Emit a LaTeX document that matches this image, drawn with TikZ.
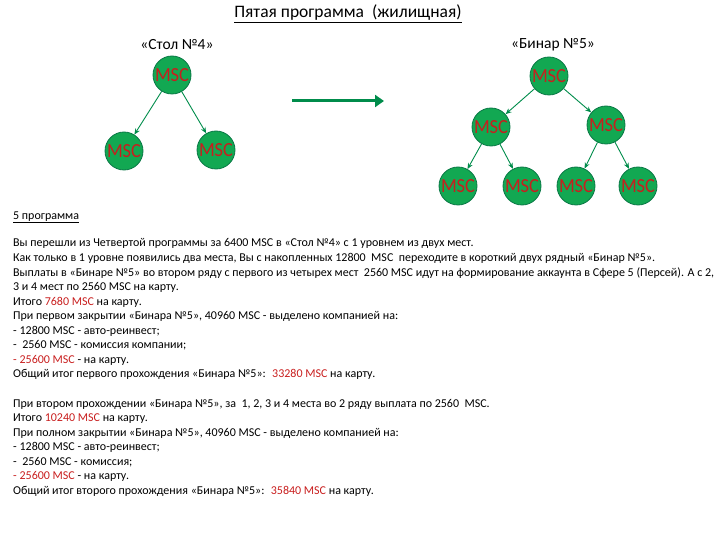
\documentclass[tikz,border=0pt]{standalone}
\usepackage{fontspec}
\setmainfont{Carlito}
\usetikzlibrary{arrows.meta}
\definecolor{mscfill}{RGB}{18,168,82}
\definecolor{mscline}{RGB}{10,120,70}
\definecolor{mscred}{RGB}{200,30,30}
\definecolor{mscarrow}{RGB}{0,140,75}
\newcommand{\msctext}{\makebox[0pt]{\scalebox{.92}[1]{MSC}}}
\newcommand{\rd}[1]{\textcolor{mscred}{#1}}
\begin{document}
\begin{tikzpicture}[x = 1pt, y = -1pt,
		msc/.style = {circle, fill=mscfill, draw=mscline, line width=.8pt, minimum size=38pt, inner sep=0pt, text=mscred, font=\fontsize{20}{20}\selectfont},
		head/.style = {font=\fontsize{15.5}{17}\selectfont},
		txt/.style = {anchor=base west, inner sep=0pt, font=\fontsize{12}{14}\selectfont},
		edge/.style = {draw=mscarrow, line width=.9pt, -{Stealth[length=6pt, width=5pt]}}]
		\useasboundingbox (0,0) rectangle (720,540);
		\node [font=\fontsize{17.5}{19}\selectfont] (title) at (348,14) {\underline{Пятая программа~~(жилищная)}};
		\node [head] (stol) at (177,45) {«Стол №4»};
		\node [head] (binar) at (553,45) {«Бинар №5»};
		\node [msc] (s0) at (172,75) {\msctext};
		\node [msc] (s1) at (124,151) {\msctext};
		\node [msc] (s2) at (216,150) {\msctext};
		\path [edge] (s0) -- (s1);
		\path [edge] (s0) -- (s2);
		\coordinate (go1) at (292,101);
		\coordinate (go2) at (384,101);
		\path [draw=mscarrow, line width=3pt, -{Triangle[length=9pt, width=12pt]}] (go1) -- (go2);
		\node [msc] (b0) at (549,76) {\msctext};
		\node [msc] (b1) at (491,127) {\msctext};
		\node [msc] (b2) at (606,125) {\msctext};
		\node [msc] (b3) at (458,186) {\msctext};
		\node [msc] (b4) at (522,186) {\msctext};
		\node [msc] (b5) at (576,186) {\msctext};
		\node [msc] (b6) at (638,186) {\msctext};
		\path [edge] (b0) -- (b1);
		\path [edge] (b0) -- (b2);
		\path [edge] (b1) -- (b3);
		\path [edge] (b1) -- (b4);
		\path [edge] (b2) -- (b5);
		\path [edge] (b2) -- (b6);
		\node [txt] (p0) at (13,219) {\underline{5 программа}};
		\node [txt] (p1) at (13,247) {Вы перешли из Четвертой программы за 6400 MSC в «Стол №4» с 1 уровнем из двух мест.};
		\node [txt] (p2) at (13,261.5) {Как только в 1 уровне появились два места, Вы с накопленных 12800~ MSC~ переходите в короткий двух рядный «Бинар №5».};
		\node [txt] (p3) at (13,276) {Выплаты в «Бинаре №5» во втором ряду с первого из четырех мест~ 2560 MSC идут на формирование аккаунта в Сфере 5 (Персей). А с 2,};
		\node [txt] (p4) at (13,290.5) {3 и 4 мест по 2560 MSC на карту.};
		\node [txt] (p5) at (13,305) {Итого \rd{7680 MSC} на карту.};
		\node [txt] (p6) at (13,319.5) {При первом закрытии «Бинара №5», 40960 MSC - выделено компанией на:};
		\node [txt] (p7) at (13,334) {- 12800 MSC - авто-реинвест;};
		\node [txt] (p8) at (13,348.5) {-~ 2560 MSC - комиссия компании;};
		\node [txt] (p9) at (13,363) {\rd{- 25600 MSC} - на карту.};
		\node [txt] (p10) at (13,377.5) {Общий итог первого прохождения «Бинара №5»:~ \rd{33280 MSC} на карту.};
		\node [txt] (q1) at (13,407) {При втором прохождении «Бинара №5», за~ 1, 2, 3 и 4 места во 2 ряду выплата по 2560~ MSC.};
		\node [txt] (q2) at (13,421.5) {Итого \rd{10240 MSC} на карту.};
		\node [txt] (q3) at (13,436) {При полном закрытии «Бинара №5», 40960 MSC - выделено компанией на:};
		\node [txt] (q4) at (13,450.5) {- 12800 MSC - авто-реинвест;};
		\node [txt] (q5) at (13,465) {-~ 2560 MSC - комиссия;};
		\node [txt] (q6) at (13,479.5) {\rd{- 25600 MSC} - на карту.};
		\node [txt] (q7) at (13,494) {Общий итог второго прохождения «Бинара №5»:~ \rd{35840 MSC} на карту.};
	\end{tikzpicture}
\end{document}
